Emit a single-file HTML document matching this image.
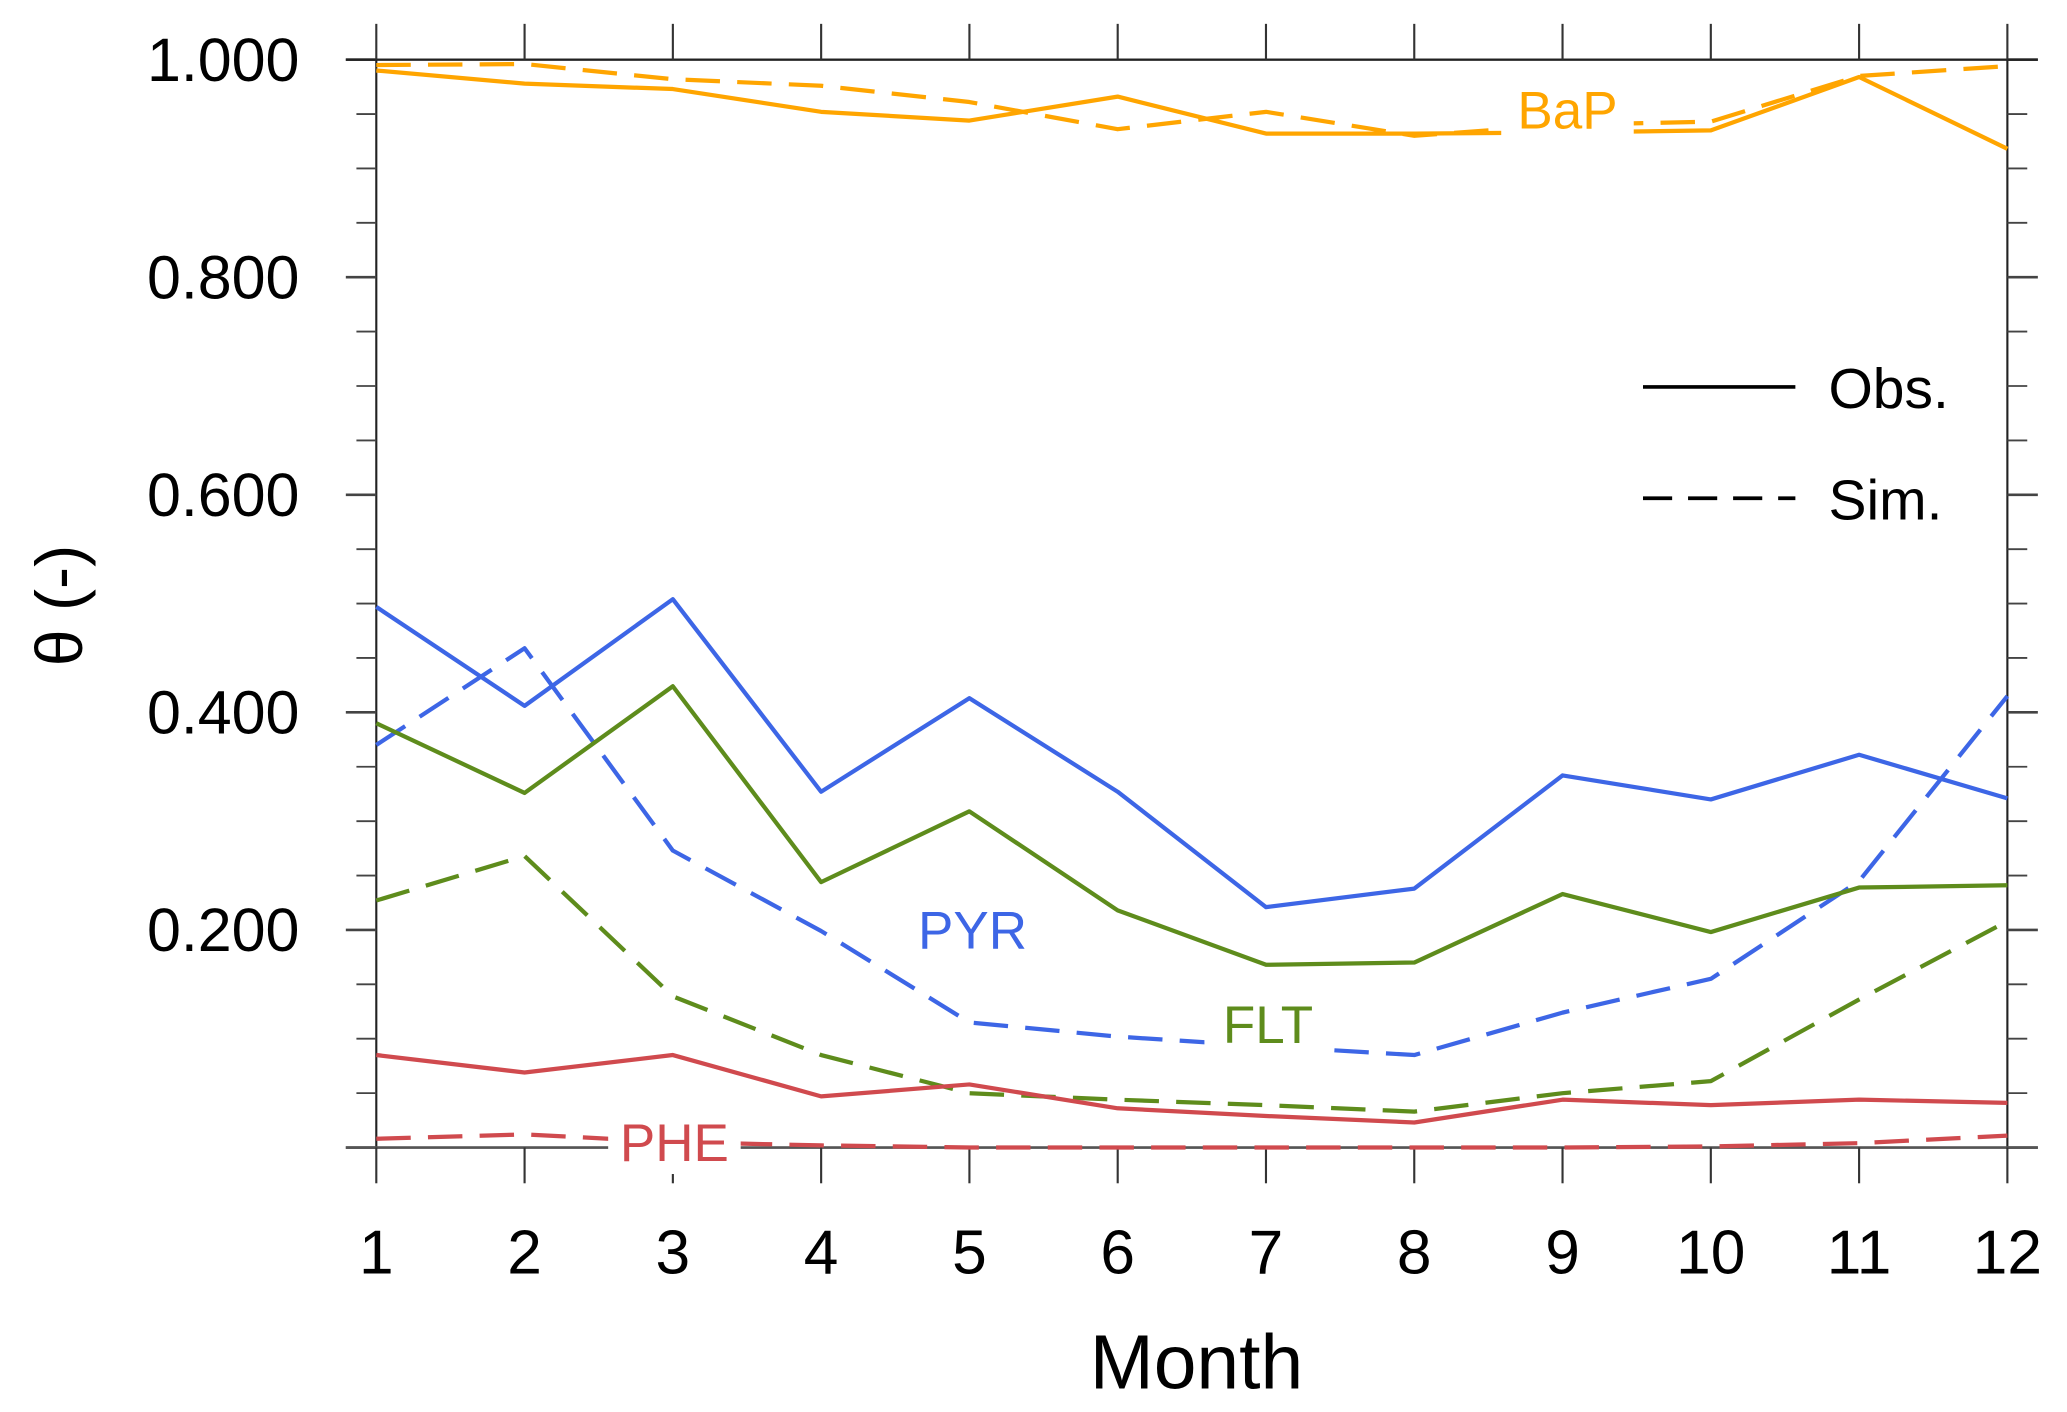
<!DOCTYPE html>
<html><head><meta charset="utf-8"><style>
html,body{margin:0;padding:0;background:#fff;}
svg{display:block;}
text{font-family:"Liberation Sans",sans-serif;}
</style></head><body>
<svg id="chart" width="2067" height="1412" viewBox="0 0 1560 1065.6" preserveAspectRatio="none" xmlns="http://www.w3.org/2000/svg">
<g id="axes"></g>
<g id="series"></g>
<g id="labels"></g>
</svg>
<script>
const months = [1,2,3,4,5,6,7,8,9,10,11,12];
const yTicks = [0.2,0.4,0.6,0.8,1.0];
const yTickLabels = ["0.200","0.400","0.600","0.800","1.000"];
const bapObs = [0.990,0.978,0.973,0.952,0.944,0.966,0.932,0.932,0.933,0.935,0.984,0.918];
const bapSim = [0.995,0.996,0.982,0.976,0.961,0.936,0.952,0.930,0.940,0.943,0.985,0.994];
const pyrObs = [0.497,0.406,0.504,0.327,0.413,0.327,0.221,0.238,0.342,0.320,0.361,0.321];
const pyrSim = [0.370,0.459,0.273,0.199,0.115,0.102,0.093,0.085,0.124,0.155,0.245,0.415];
const fltObs = [0.390,0.326,0.424,0.244,0.309,0.218,0.168,0.170,0.233,0.198,0.239,0.241];
const fltSim = [0.227,0.268,0.139,0.085,0.050,0.044,0.039,0.033,0.050,0.061,0.136,0.208];
const pheObs = [0.085,0.069,0.085,0.047,0.058,0.036,0.029,0.023,0.044,0.039,0.044,0.041];
const pheSim = [0.008,0.012,0.005,0.002,0.000,0.000,0.000,0.000,0.000,0.001,0.004,0.011];

const NS="http://www.w3.org/2000/svg";
const X0=284,X1=1515,Y0=866,Y1=45;
function xs(m){return X0+(m-1)*(X1-X0)/11;}
function ys(v){return Y0-v*(Y0-Y1);}
function mk(tag,attrs,parent){const e=document.createElementNS(NS,tag);for(const k in attrs)e.setAttribute(k,attrs[k]);parent.appendChild(e);return e;}
const axes=document.getElementById('axes');
const ser=document.getElementById('series');
const lab=document.getElementById('labels');

let f=mk('rect',{x:X0,y:Y1,width:X1-X0,height:Y0-Y1,fill:'none',stroke:'#222','stroke-width':1.6},axes);


for(let i=0;i<=20;i++){
  const v=i*0.05, y=ys(v), major=(i%4===0);
  let t=mk('line',{x1:major?261:269,x2:X0,y1:y,y2:y,stroke:'#444','stroke-width':major?2:1.4},axes);
  
  
  let t2=mk('line',{x1:X1,x2:major?1538:1530,y1:y,y2:y,stroke:'#444','stroke-width':major?2:1.4},axes);
  
  
}
mk('line',{x1:261,x2:1538,y1:Y1,y2:Y1,stroke:'#222','stroke-width':1.6},axes);
mk('line',{x1:261,x2:1538,y1:Y0,y2:Y0,stroke:'#555','stroke-width':2},axes);
yTicks.forEach((v,i)=>{
  let t=mk('text',{x:226,y:ys(v)+16,'text-anchor':'end','font-size':46,fill:'#000'},axes);
  t.textContent=yTickLabels[i];
  
  
});
months.forEach(m=>{
  const x=xs(m);
  let a=mk('line',{x1:x,x2:x,y1:18,y2:Y1,stroke:'#333','stroke-width':1.6},axes);
  
  
  let b=mk('line',{x1:x,x2:x,y1:Y0,y2:893,stroke:'#333','stroke-width':1.6},axes);
  
  
  let t=mk('text',{x:x,y:961,'text-anchor':'middle','font-size':47,fill:'#000'},axes);
  t.textContent=String(m);
  
  
});
let xt=mk('text',{x:903,y:1048,'text-anchor':'middle','font-size':58,fill:'#000'},axes);
xt.textContent='Month';


let yt=mk('text',{x:0,y:0,'text-anchor':'middle','font-size':50,fill:'#000',transform:'translate(62,457) rotate(-90)'},axes);
yt.textContent='θ (-)';



function line(vals,color,dashed,name){
  const pts=vals.map((v,i)=>xs(months[i]).toFixed(1)+','+ys(v).toFixed(1)).join(' ');
  const p=mk('polyline',{points:pts,fill:'none',stroke:color,'stroke-width':3.2,'stroke-linejoin':'round'},ser);
  if(dashed)p.setAttribute('stroke-dasharray','26,13');
  
  
}
const cB='#FFA500',cP='#3D66E6',cF='#5E8C1C',cH='#D04A4E';
line(bapObs,cB,false,'bap-obs-line');line(bapSim,cB,true,'bap-sim-line');
line(pyrObs,cP,false,'pyr-obs-line');line(pyrSim,cP,true,'pyr-sim-line');
line(fltObs,cF,false,'flt-obs-line');line(fltSim,cF,true,'flt-sim-line');
line(pheObs,cH,false,'phe-obs-line');line(pheSim,cH,true,'phe-sim-line');

function label(txt,x,y,color,bw,name){
  if(bw){let r=mk('rect',{x:x-bw/2,y:y-32,width:bw,height:42,fill:'#fff'},lab);
    
    }
  let t=mk('text',{x:x,y:y,'text-anchor':'middle','font-size':40,fill:color,'font-family':'"DejaVu Sans",sans-serif'},lab);
  t.textContent=txt;
  
  
}
label('BaP',1183,97,cB,100,'bap-label');
label('PYR',734,716,cP,0,'pyr-label');
label('FLT',957,787,cF,96,'flt-label');
label('PHE',509,876,cH,100,'phe-label');

let l1=mk('line',{x1:1240,x2:1355,y1:292,y2:292,stroke:'#000','stroke-width':2.8},lab);


let l2=mk('line',{x1:1240,x2:1355,y1:376,y2:376,stroke:'#000','stroke-width':2.8,'stroke-dasharray':'22,12'},lab);


let o=mk('text',{x:1380,y:308,'font-size':43,fill:'#000'},lab);o.textContent='Obs.';


let s=mk('text',{x:1380,y:392,'font-size':43,fill:'#000'},lab);s.textContent='Sim.';


</script>
</body></html>
